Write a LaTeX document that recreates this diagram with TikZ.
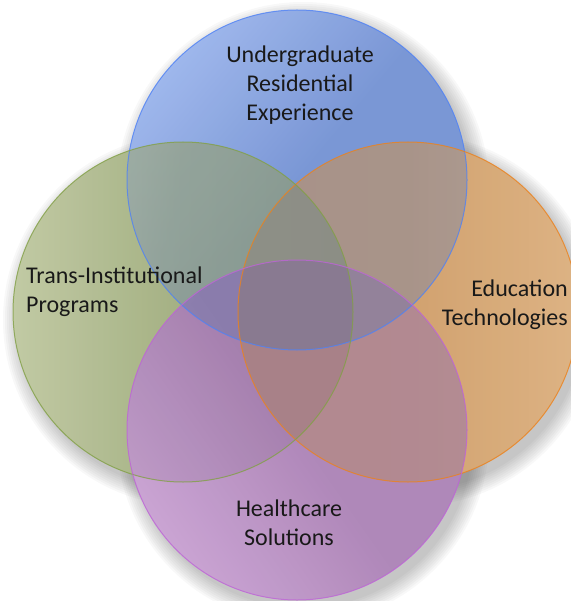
\documentclass[tikz,border=0pt]{standalone}
\usepackage{fontspec}
\setmainfont{Carlito}
\definecolor{bluemid}{RGB}{130,160,226}
\definecolor{bluelt}{RGB}{168,194,250}
\definecolor{blueln}{RGB}{80,130,245}
\definecolor{greenmid}{RGB}{166,180,130}
\definecolor{greenlt}{RGB}{205,214,174}
\definecolor{greenln}{RGB}{130,160,70}
\definecolor{orangemid}{RGB}{220,168,114}
\definecolor{orangelt}{RGB}{234,190,140}
\definecolor{orangeln}{RGB}{235,130,30}
\definecolor{purplemid}{RGB}{186,144,196}
\definecolor{purplelt}{RGB}{214,174,224}
\definecolor{purpleln}{RGB}{190,100,215}
\definecolor{dimgray}{RGB}{241,241,241}
\begin{document}
\begin{tikzpicture}[x=1pt,y=-1pt,
  venn/.style={circle, minimum size=340pt, inner sep=0pt},
  shadowlayer/.style={fill=black, opacity=0.028},
  bshade/.style={left color=bluelt, right color=bluemid, middle color=bluemid, shading angle=50},
  oshade/.style={left color=orangemid, right color=orangelt, middle color=orangemid!85!orangelt},
  gshade/.style={left color=greenlt, right color=greenmid, middle color=greenmid!80!greenlt},
  pshade/.style={left color=purplelt, right color=purplemid, middle color=purplemid, shading angle=125},
  dim/.style={fill=dimgray, blend mode=multiply},
  rim/.style={line width=1pt, draw opacity=0.8},
  lbl/.style={font=\fontsize{24}{29}\selectfont, text=black!90, inner sep=0pt},
]
\useasboundingbox (0,0) rectangle (570,601);
% drop shadows
\foreach \cx/\cy in {297/180,183/312,408/312,297/430}{
  \foreach \r in {186,184,...,170}{
    \fill[shadowlayer] (\cx+6,\cy+8) circle[radius=\r pt];
  }
}
% opaque base layer
\node[venn, bshade] (blue) at (297,180) {};
\node[venn, oshade] (orange) at (408,312) {};
\node[venn, gshade] (green) at (183,312) {};
\node[venn, pshade] (purple) at (297,430) {};
% see-through layer
\shade[oshade, fill opacity=0.42] (orange.center) circle[radius=170pt];
\shade[bshade, fill opacity=0.35] (blue.center) circle[radius=170pt];
% slight darkening where circles overlap
\foreach \n in {blue,orange,green,purple}{
  \fill[dim] (\n.center) circle[radius=170pt];
}
% outlines
\draw[rim, draw=blueln] (blue.center) circle[radius=170pt];
\draw[rim, draw=orangeln] (orange.center) circle[radius=170pt];
\draw[rim, draw=greenln] (green.center) circle[radius=170pt];
\draw[rim, draw=purpleln] (purple.center) circle[radius=170pt];
% labels
\node[lbl, align=center, anchor=base] (t1) at (300,121) {Undergraduate\\Residential\\Experience};
\node[lbl, align=left, anchor=base west] (t2) at (26,312) {Trans-Institutional\\Programs};
\node[lbl, align=right, anchor=base east] (t3) at (568,325) {Education\\Technologies};
\node[lbl, align=center, anchor=base] (t4) at (289,545) {Healthcare\\Solutions};
\end{tikzpicture}
\end{document}
